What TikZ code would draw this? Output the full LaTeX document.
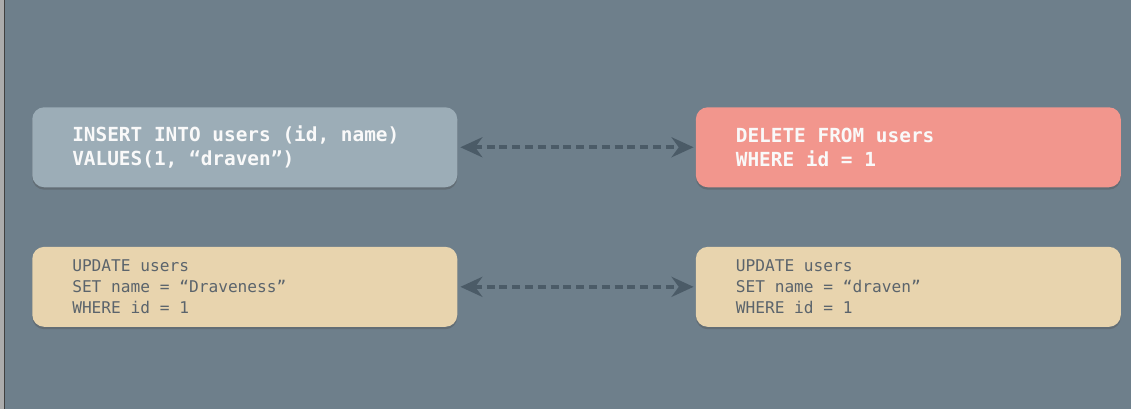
\documentclass[tikz,border=0pt]{standalone}
\usepackage{fontspec}
\newfontfamily\sqlfont{DejaVu Sans Mono}
\usetikzlibrary{positioning,arrows.meta,shadows}
\definecolor{bgslate}{HTML}{6E7F8B}
\definecolor{insertgray}{HTML}{9CADB7}
\definecolor{deletered}{HTML}{F2968D}
\definecolor{updatesand}{HTML}{E8D4AE}
\definecolor{arrowslate}{HTML}{4B5B67}
\definecolor{codegray}{HTML}{5B646C}
\begin{document}
\begin{tikzpicture}[
  query/.style={rounded corners=0.3cm, minimum width=10.625cm, minimum height=2cm,
    text width=8.625cm, inner xsep=1cm, align=flush left,
    execute at begin node={\spaceskip=0pt\xspaceskip=0pt\relax},
    drop shadow={shadow xshift=0cm, shadow yshift=-0.06cm, opacity=0.35, fill=black!70}},
  hot/.style={query, text=white!95!gray, font=\sqlfont\bfseries\fontsize{13.8}{17}\selectfont},
  cold/.style={query, text=codegray, font=\sqlfont\fontsize{11.5}{14.9}\selectfont},
  pair/.style={{Stealth[length=0.55cm,width=0.5cm,inset=0.18cm]}-{Stealth[length=0.55cm,width=0.5cm,inset=0.18cm]},
    arrowslate, line width=0.1cm, dash pattern=on 0.2cm off 0.12cm, shorten <=0.07cm, shorten >=0.05cm}]
% canvas
\fill[bgslate] (0,0) rectangle (28.275,-10.225);
\useasboundingbox (0,0) rectangle (28.275,-10.225);
\fill[gray!65] (0,0) rectangle (0.1,-10.225);
\fill[black!75] (0.1,0) rectangle (0.125,-10.225);
% queries
\node[hot, fill=insertgray, anchor=north west] (insert) at (0.8,-2.675)
  {INSERT INTO users (id, name)\\VALUES(1, “draven”)};
\node[hot, fill=deletered, right=5.95cm of insert] (delete)
  {DELETE FROM users\\WHERE id = 1};
\node[cold, fill=updatesand, below=1.475cm of insert] (rename)
  {UPDATE users\\SET name = “Draveness”\\WHERE id = 1};
\node[cold, fill=updatesand, below=1.475cm of delete] (restore)
  {UPDATE users\\SET name = “draven”\\WHERE id = 1};
% inverse pairs
\draw[pair] (insert) -- (delete);
\draw[pair] (rename) -- (restore);
\end{tikzpicture}
\end{document}
